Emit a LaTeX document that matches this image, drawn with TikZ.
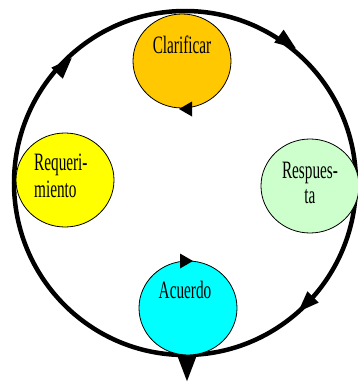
\documentclass[tikz,border=0pt]{standalone}
\usepackage{fontspec}
\setmainfont{Liberation Serif}[FakeStretch=0.61]
\usetikzlibrary{shapes.geometric}
\definecolor{orangec}{HTML}{FFC800}
\definecolor{yellowc}{HTML}{FFFF00}
\definecolor{greenc}{HTML}{CCFFCC}
\definecolor{cyanc}{HTML}{00FFFF}
\tikzset{
  bubble/.style={ellipse, draw=black, line width=0.8pt, minimum width=98pt, minimum height=94pt, inner sep=0pt},
  lbl/.style={font=\fontsize{25}{27}\selectfont, inner sep=0pt},
  ring/.style={line width=4.5pt, draw=black},
  mk/.pic={\fill[black] (11,0) -- (-10,8) -- (-10,-8) -- cycle;},
  smk/.pic={\fill[black] (7,0) -- (-6,7.5) -- (-6,-7.5) -- cycle;}
}
\begin{document}
\begin{tikzpicture}[x=1pt,y=-1pt]
\useasboundingbox (0,0) rectangle (357,383);
% big ring
\draw[ring] (185,183) ellipse [x radius=171, y radius=172];
% bubbles
\node[bubble, fill=orangec] (clar) at (182,61) {};
\node[bubble, fill=yellowc] (req) at (65,180) {};
\node[bubble, fill=greenc] (resp) at (310,186) {};
\node[bubble, fill=cyanc] (acu) at (188,308) {};
% labels
\node[lbl, anchor=base] (tclar) at (182,53) {Clarificar};
\node[lbl, anchor=base west] (treq1) at (34,170) {Requeri-};
\node[lbl, anchor=base west] (treq2) at (34,197) {miento};
\node[lbl, anchor=base] (tresp1) at (310,178) {Respues-};
\node[lbl, anchor=base] (tresp2) at (310,203) {ta};
\node[lbl, anchor=base] (tacu) at (185,298) {Acuerdo};
% arrow markers on ring
\pic[rotate=46] at (64,66) {mk};
\pic[rotate=-36] at (287,42) {mk};
\pic[rotate=-135] at (306,304) {mk};
\pic[rotate=-90, scale=1.2] at (187,368) {mk};
% small markers
\pic[rotate=180] at (186,109) {smk};
\pic[rotate=0] at (186,261) {smk};
\end{tikzpicture}
\end{document}
